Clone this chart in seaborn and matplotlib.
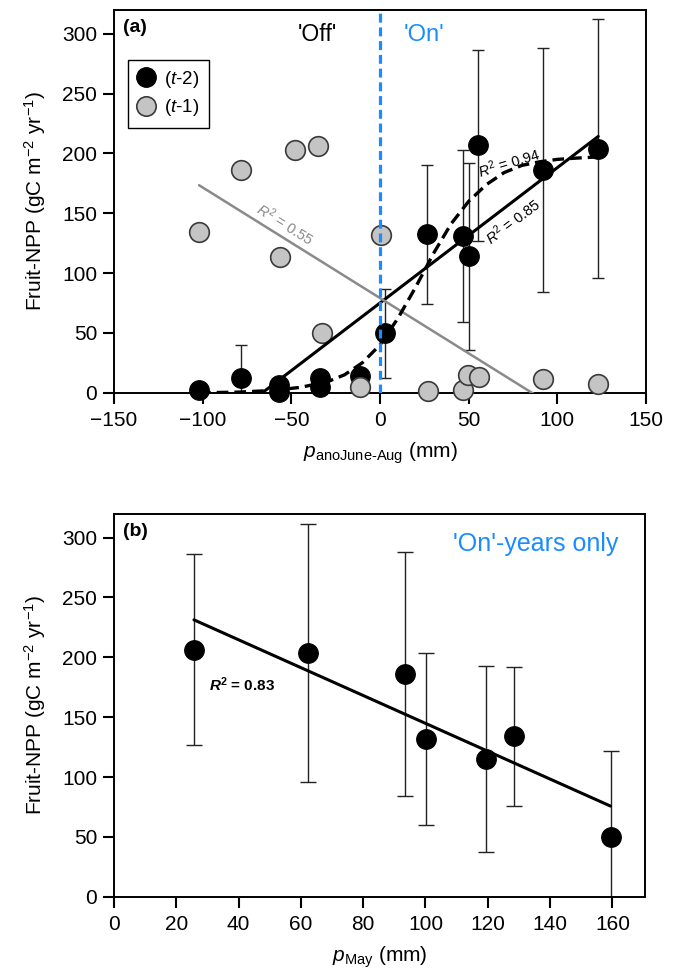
import matplotlib
matplotlib.use('Agg')
import matplotlib.pyplot as plt
from matplotlib.lines import Line2D
import pandas as pd
import seaborn as sns

# panel (a): fruit NPP against summer precipitation anomaly
t2_x = [-102, -78.6, -56.8, -56.8, -33.8, -33.8, -11.3, 2.8, 26.5, 46.5, 50.0, 55.5, 92.0, 123.0]
t2_y = [2, 12.5, 6.4, 1, 12, 5, 14, 49.6, 132.5, 131, 114, 206.7, 186, 204]
t2_err = [0, 27, 0, 0, 0, 0, 0, 37, 58, 72, 78, 80, 102, 108]

t1_x = [-102, -78.4, -47.9, -34.8, -56.4, -32.5, -11.3, 0.6, 27.3, 46.6, 49.8, 56.0, 92.1, 122.6]
t1_y = [134.4, 185.9, 202.6, 206.2, 113.5, 50, 5, 131.6, 1.4, 2, 14.8, 12.8, 11.2, 7]

# sigmoid fit for (t-2)
sig_x = [-102, -80, -60, -45, -30, -20, -10, 0, 10, 20, 30, 40, 50, 60, 70, 80, 90, 100, 110, 122]
sig_y = [0, 0.5, 2, 4.5, 9, 15, 25, 40, 62, 88, 116, 141, 160, 174, 184, 190, 193, 195, 196, 197]

# panel (b): 'On'-years against May precipitation
may_x = [25.7, 62.3, 93.3, 100.3, 119.5, 128.4, 159.4]
may_y = [206.4, 203.7, 186.4, 131.7, 115, 133.9, 49.7]
may_err = [80, 108, 102, 72, 78, 58, 72]

BLUE = '#1a8cff'
GREY_FACE = '#c4c4c4'
GREY_LINE = '#8a8a8a'

sns.set_style('ticks', {'axes.edgecolor': 'black', 'xtick.color': 'black', 'ytick.color': 'black',
                        'text.color': 'black', 'axes.labelcolor': 'black'})
plt.rcParams['font.family'] = ['Liberation Sans', 'DejaVu Sans']
plt.rcParams['mathtext.fontset'] = 'custom'
plt.rcParams['mathtext.rm'] = 'Liberation Sans'
plt.rcParams['mathtext.it'] = 'Liberation Sans:italic'
plt.rcParams['mathtext.bf'] = 'Liberation Sans:bold'
plt.rcParams['mathtext.bfit'] = 'Liberation Sans:italic:bold'

a_df = pd.DataFrame({'x': t2_x, 'y': t2_y, 'err': t2_err})
g_df = pd.DataFrame({'x': t1_x, 'y': t1_y})
b_df = pd.DataFrame({'x': may_x, 'y': may_y, 'err': may_err})

fig = plt.figure(figsize=(6.78, 9.77), dpi=100)
ax1 = fig.add_axes([0.168, 0.598, 0.785, 0.392])
ax2 = fig.add_axes([0.168, 0.0822, 0.783, 0.392])

ylab = 'Fruit-NPP (gC m$^{-2}$ yr$^{-1}$)'


def style_axes(ax):
    for s in ax.spines.values():
        s.set_linewidth(1.4)
    ax.tick_params(direction='out', length=8, width=1.5, labelsize=15)
    ax.tick_params(axis='x', pad=5)
    ax.tick_params(axis='y', pad=4)
    ax.set_ylim(0, 320)
    ax.set_yticks(range(0, 301, 50))
    ax.set_ylabel(ylab, fontsize=15, labelpad=10)


# ---- panel (a)
ax = ax1
eb = a_df[a_df['err'] > 0]
ax.errorbar(eb['x'], eb['y'], yerr=eb['err'], fmt='none', ecolor='#222222',
            elinewidth=1.0, capsize=4.5, capthick=1.0, zorder=2)
sns.scatterplot(data=a_df, x='x', y='y', ax=ax, color='black', edgecolor='black',
                s=200, linewidth=0.8, zorder=3, clip_on=False)
sns.scatterplot(data=g_df, x='x', y='y', ax=ax, color=GREY_FACE, edgecolor='#3a3a3a',
                s=200, linewidth=1.2, zorder=4, clip_on=False)
sns.regplot(data=a_df, x='x', y='y', ax=ax, scatter=False, ci=None, truncate=True,
            line_kws=dict(color='black', lw=2.2, zorder=5))
sns.regplot(data=g_df, x='x', y='y', ax=ax, scatter=False, ci=None, truncate=True,
            line_kws=dict(color=GREY_LINE, lw=1.8, zorder=5))
ax.plot(sig_x, sig_y, color='black', lw=2.4, ls=(0, (3.5, 1.8)), zorder=5)
ax.axvline(0, color=BLUE, lw=2.3, ls=(0, (2.8, 1.5)), zorder=6)

ax.set_xlim(-150, 150)
ax.set_xticks(range(-150, 151, 50))
style_axes(ax)
ax.set_xlabel('$p_{\\mathrm{anoJune\u2010Aug}}$ (mm)', fontsize=15, labelpad=8)

ax.text(0.017, 0.975, '(a)', transform=ax.transAxes, fontsize=14, fontweight='bold',
        ha='left', va='top')
ax.text(-35.5, 299, "'Off'", fontsize=16.5, ha='center', va='center')
ax.text(24.8, 299, "'On'", fontsize=17, ha='center', va='center', color=BLUE)
ax.text(-53.6, 141, '$R^2$ = 0.55', fontsize=10.5, color=GREY_LINE, rotation=-32,
        ha='center', va='center', rotation_mode='anchor')
ax.text(73, 192, '$R^2$ = 0.94', fontsize=10.5, rotation=17,
        ha='center', va='center', rotation_mode='anchor')
ax.text(75, 143, '$R^2$ = 0.85', fontsize=10.5, rotation=37,
        ha='center', va='center', rotation_mode='anchor')

handles = [Line2D([], [], marker='o', ls='none', ms=14, mfc='black', mec='black'),
           Line2D([], [], marker='o', ls='none', ms=14, mfc=GREY_FACE, mec='#3a3a3a', mew=1.2)]
leg = ax.legend(handles, ['($t$-2)', '($t$-1)'], loc='upper left', bbox_to_anchor=(0.026, 0.87),
                borderaxespad=0, fontsize=13.5, frameon=True, fancybox=False, framealpha=1,
                edgecolor='black', handlelength=1.0, handletextpad=0.45, borderpad=0.5,
                labelspacing=0.4)
leg.get_frame().set_linewidth(1.0)

# ---- panel (b)
ax = ax2
ax.errorbar(b_df['x'], b_df['y'], yerr=b_df['err'], fmt='none', ecolor='#222222',
            elinewidth=1.0, capsize=5.5, capthick=1.0, zorder=2)
sns.scatterplot(data=b_df, x='x', y='y', ax=ax, color='black', edgecolor='black',
                s=200, linewidth=0.8, zorder=3, clip_on=False)
sns.regplot(data=b_df, x='x', y='y', ax=ax, scatter=False, ci=None, truncate=True,
            line_kws=dict(color='black', lw=2.2, zorder=5))
ax.set_xlim(0, 170.4)
ax.set_xticks(range(0, 161, 20))
style_axes(ax)
ax.set_xlabel('$p_{\\mathrm{May}}$ (mm)', fontsize=15, labelpad=8)

ax.text(0.017, 0.975, '(b)', transform=ax.transAxes, fontsize=14, fontweight='bold',
        ha='left', va='top')
ax.text(135.4, 295, "'On'-years only", fontsize=18, ha='center', va='center', color=BLUE)
ax.text(41, 177, '$\\mathbfit{R}^{\\mathbf{2}}$ = 0.83', fontsize=11, fontweight='bold',
        ha='center', va='center')

fig.savefig('out.png', dpi=100)
